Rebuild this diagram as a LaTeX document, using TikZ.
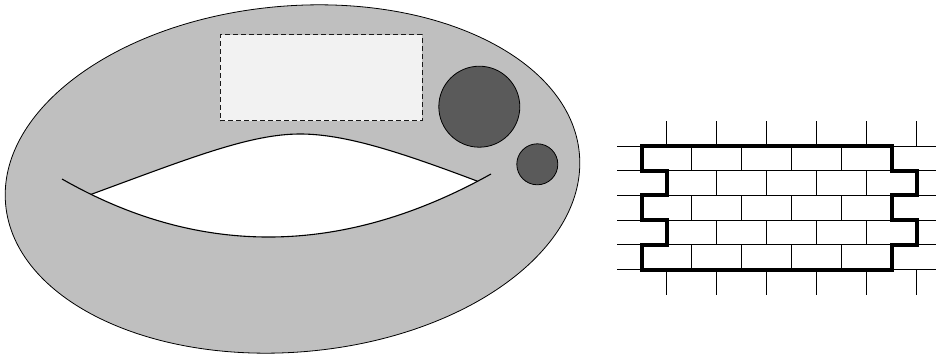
\documentclass[tikz,border=0pt]{standalone}
\usepackage{xcolor}
\definecolor{cRing}{HTML}{BFBFBF}
\definecolor{cDisc}{HTML}{5A5A5A}
\definecolor{cPatch}{HTML}{F2F2F2}
\usepackage{tikz}
\usetikzlibrary{positioning}
\tikzset{
  ring/.style={draw=black,line width=0.8pt,fill=cRing},
  hole-edge/.style={draw=black,line width=1.1pt},
  patch/.style={draw=black!90,line width=1pt,fill=cPatch,
    dash pattern=on 5pt off 3pt,minimum width=202pt,minimum height=86pt,
    inner sep=0pt},
  disc/.style={draw=black,line width=0.8pt,fill=cDisc,circle,inner sep=0pt},
  mortar/.style={draw=black,line width=0.8pt},
  wall-edge/.style={draw=black,line width=4pt,line join=miter},
}

\begin{document}
\begin{tikzpicture}[x=1pt,y=-1pt]
  \useasboundingbox (0,0) rectangle (936,358);
  % ring with the slit
  \draw[ring,rotate around={5:(292.5,179)}] (292.5,179) ellipse [x radius=288,y radius=173];
  \coordinate (lipL) at (91,194.4);
  \coordinate (lipR) at (477.5,181.2);
  \begin{scope}
    \clip (lipL) .. controls (190,158) and (250,134) .. (300,134)
      .. controls (345,134) and (400,152) .. (lipR) -- (477.5,400) -- (91,400) -- cycle;
    \fill[white] (62,179) .. controls (200.3,258) and (343.3,256.3) .. (491,174)
      -- (491,0) -- (62,0) -- cycle;
  \end{scope}
  \draw[hole-edge] (lipL) .. controls (190,158) and (250,134) .. (300,134)
    .. controls (345,134) and (400,152) .. (lipR);
  \draw[hole-edge] (62,179) .. controls (200.3,258) and (343.3,256.3) .. (491,174);
  \node[patch]                         (patch) at (321,78)      {};
  \node[disc,minimum size=81pt]        (big)   at (479.3,106.7) {};
  \node[disc,minimum size=41pt]        (small) at (537.3,164.3) {};
  % brick wall
  \foreach \r in {0,...,5}
    \draw[mortar] (617,146+24.7*\r) -- (936,146+24.7*\r);
  \foreach \c in {0,...,5} {
    \draw[mortar] (666.7+50*\c,121.5) -- (666.7+50*\c,146);
    \draw[mortar] (666.7+50*\c,269.5) -- (666.7+50*\c,295);
  }
  \foreach \r in {0,2,4}
    \foreach \c in {1,...,4}
      \draw[mortar] (641.7+50*\c,146+24.7*\r) -- ++(0,24.7);
  \foreach \r in {1,3}
    \foreach \c in {1,...,4}
      \draw[mortar] (666.7+50*\c,146+24.7*\r) -- ++(0,24.7);
  \draw[wall-edge] (641.7,146) -- (891.7,146) -- (891.7,170.7) -- (916.7,170.7)
    -- (916.7,195.4) -- (891.7,195.4) -- (891.7,220.1) -- (916.7,220.1)
    -- (916.7,244.8) -- (891.7,244.8) -- (891.7,269.5) -- (641.7,269.5)
    -- (641.7,244.8) -- (666.7,244.8) -- (666.7,220.1) -- (641.7,220.1)
    -- (641.7,195.4) -- (666.7,195.4) -- (666.7,170.7) -- (641.7,170.7) -- cycle;
\end{tikzpicture}
\end{document}
